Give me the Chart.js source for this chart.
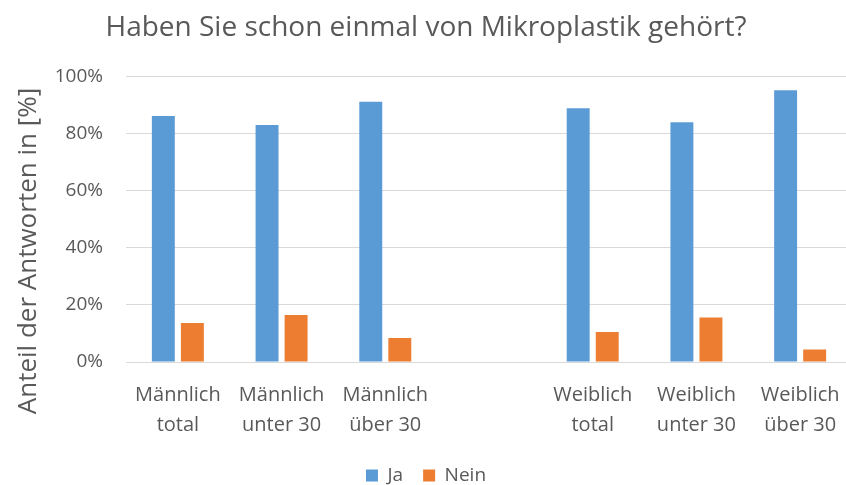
<!DOCTYPE html>
<html>
<head>
<meta charset="utf-8">
<script src="https://cdn.jsdelivr.net/npm/chart.js@4/dist/chart.umd.min.js"></script>
<style>
  html, body { margin: 0; padding: 0; background: #fff; overflow: hidden; }
  #wrap { width: 852px; height: 485px; }
</style>
</head>
<body>
<div id="wrap"><canvas id="mikroChart" width="852" height="485"></canvas></div>
<script>
// Umfrage: Haben Sie schon einmal von Mikroplastik gehört?
const categories = [
    ['Männlich', 'total'],
    ['Männlich', 'unter 30'],
    ['Männlich', 'über 30'],
    '',
    ['Weiblich', 'total'],
    ['Weiblich', 'unter 30'],
    ['Weiblich', 'über 30']
];
const jaValues = [86.2, 83.0, 91.2, null, 88.9, 84.0, 95.2];
const neinValues = [13.7, 16.5, 8.4, null, 10.5, 15.6, 4.4];
const yTicks = [0, 20, 40, 60, 80, 100];

const textColor = '#595959';
const fontFamily = '"Open Sans", sans-serif';

// y axis title, placed like in the original (Excel puts it a bit lower)
const axisTitlePlugin = {
    id: 'axisTitle',
    afterInit(chart) {
        // legend: wide spacing between items but sitting low near the bottom edge
        const origFit = chart.legend.fit;
        chart.legend.fit = function() {
            origFit.call(this);
            this.height = 39;
        };
    },
    afterDraw(chart) {
        const ctx = chart.ctx;
        ctx.save();
        ctx.translate(29, 251);
        ctx.rotate(-Math.PI / 2);
        ctx.font = '26px ' + fontFamily;
        ctx.fillStyle = textColor;
        ctx.textAlign = 'center';
        ctx.textBaseline = 'middle';
        ctx.fillText('Anteil der Antworten in [%]', 0, 0);
        ctx.restore();
    }
};

const ctx = document.getElementById('mikroChart').getContext('2d');
new Chart(ctx, {
    type: 'bar',
    data: {
        labels: categories,
        datasets: [{
            label: 'Ja',
            data: jaValues,
            backgroundColor: '#5B9BD5',
            categoryPercentage: 0.56,
            barPercentage: 0.79
        }, {
            label: 'Nein',
            data: neinValues,
            backgroundColor: '#ED7D31',
            categoryPercentage: 0.56,
            barPercentage: 0.79
        }]
    },
    options: {
        responsive: false,
        animation: false,
        layout: { padding: 0 },
        plugins: {
            title: {
                display: true,
                text: 'Haben Sie schon einmal von Mikroplastik gehört?',
                color: textColor,
                font: { family: fontFamily, size: 28, weight: 'normal' },
                padding: { top: 11, bottom: 32 }
            },
            legend: {
                display: true,
                position: 'bottom',
                labels: {
                    color: textColor,
                    font: { family: fontFamily, size: 19 },
                    boxWidth: 12,
                    boxHeight: 12,
                    padding: 20
                }
            },
            tooltip: { enabled: false }
        },
        scales: {
            x: {
                grid: { display: false },
                border: { display: false },
                ticks: {
                    color: textColor,
                    font: { family: fontFamily, size: 20, lineHeight: 1.5 },
                    maxRotation: 0,
                    autoSkip: false,
                    padding: 10
                },
                afterFit: function(scale) {
                    scale.height = 84;
                }
            },
            y: {
                min: 0,
                max: 100,
                afterBuildTicks: function(scale) {
                    scale.ticks = yTicks.map(v => ({ value: v }));
                },
                grid: { color: '#D9D9D9', lineWidth: 1, drawTicks: false },
                border: { display: false },
                ticks: {
                    color: textColor,
                    font: { family: fontFamily, size: 19 },
                    padding: 23,
                    callback: function(value) {
                        return value + '%';
                    }
                },
                afterFit: function(scale) {
                    scale.width = 126;
                }
            }
        }
    },
    plugins: [axisTitlePlugin]
});
</script>
</body>
</html>
